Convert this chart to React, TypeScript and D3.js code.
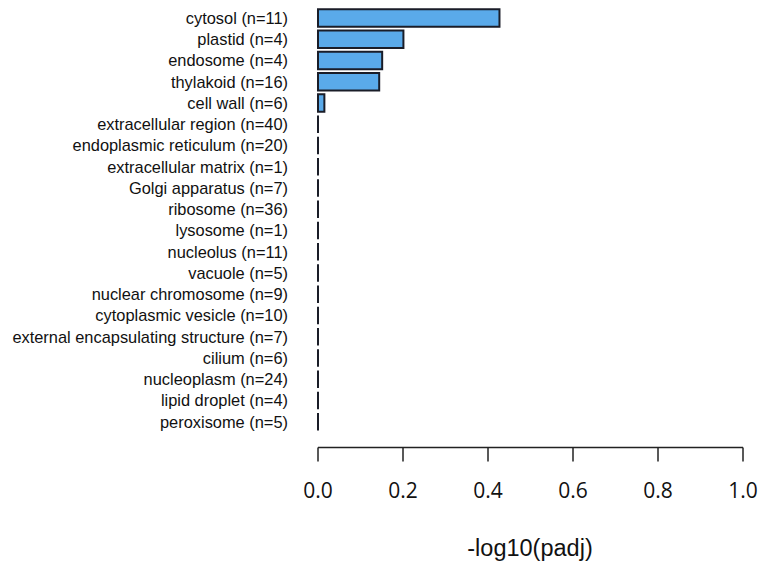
import React from "react";
import * as d3 from "d3";

// Cellular component enrichment: -log10 adjusted p-values per term
const terms = [
  "cytosol (n=11)",
  "plastid (n=4)",
  "endosome (n=4)",
  "thylakoid (n=16)",
  "cell wall (n=6)",
  "extracellular region (n=40)",
  "endoplasmic reticulum (n=20)",
  "extracellular matrix (n=1)",
  "Golgi apparatus (n=7)",
  "ribosome (n=36)",
  "lysosome (n=1)",
  "nucleolus (n=11)",
  "vacuole (n=5)",
  "nuclear chromosome (n=9)",
  "cytoplasmic vesicle (n=10)",
  "external encapsulating structure (n=7)",
  "cilium (n=6)",
  "nucleoplasm (n=24)",
  "lipid droplet (n=4)",
  "peroxisome (n=5)",
];

const scores = [
  0.427, 0.201, 0.151, 0.144, 0.015, 0, 0, 0, 0, 0, 0, 0, 0, 0, 0, 0, 0, 0, 0,
  0,
];

const xTicks = [0, 0.2, 0.4, 0.6, 0.8, 1.0];
const xTitle = "-log10(padj)";

const W = 763;
const H = 566;

export default function App() {
  const x = d3.scaleLinear().domain([0, 1]).range([318, 743]);
  const y = d3
    .scaleBand<string>()
    .domain(terms)
    .range([7.4, 7.4 + terms.length * 21.25])
    .paddingInner(0.18)
    .paddingOuter(0.09);

  const axisY = 447.5;
  const fmt = d3.format(".1f");

  return (
    <svg
      width={W}
      height={H}
      style={{ position: "absolute", left: 0, top: 0, background: "#fff" }}
    >
      {terms.map((t, i) => {
        const y0 = y(t)!;
        const h = y.bandwidth();
        const x0 = x(0);
        const x1 = x(scores[i]);
        const p = d3.path();
        p.moveTo(x0, y0);
        p.lineTo(x1, y0);
        p.lineTo(x1, y0 + h);
        p.lineTo(x0, y0 + h);
        p.closePath();
        return (
          <path
            key={t}
            d={p.toString()}
            fill="#5AAAEA"
            stroke="#1a1d28"
            strokeWidth={2}
          />
        );
      })}
      {terms.map((t) => (
        <text
          key={"l" + t}
          x={288}
          y={y(t)! + y.bandwidth() / 2}
          dy="0.36em"
          textAnchor="end"
          fontFamily="'Liberation Sans', Arial, sans-serif"
          fontSize={16.4}
          fill="#111"
        >
          {t}
        </text>
      ))}
      <g>
        <line
          x1={x(0)}
          x2={x(1)}
          y1={axisY}
          y2={axisY}
          stroke="#222"
          strokeWidth={1.5}
        />
        {xTicks.map((v) => (
          <g key={v}>
            <line
              x1={x(v)}
              x2={x(v)}
              y1={axisY}
              y2={axisY + 14}
              stroke="#222"
              strokeWidth={1.5}
            />
            <text
              x={x(v)}
              y={498}
              textAnchor="middle"
              fontFamily="'Open Sans', 'Noto Sans', sans-serif"
              fontSize={21}
              fill="#111"
            >
              {fmt(v)}
            </text>
          </g>
        ))}
      </g>
      <text
        x={530}
        y={556}
        textAnchor="middle"
        fontFamily="'Liberation Sans', Arial, sans-serif"
        fontSize={23.5}
        fill="#111"
      >
        {xTitle}
      </text>
    </svg>
  );
}
